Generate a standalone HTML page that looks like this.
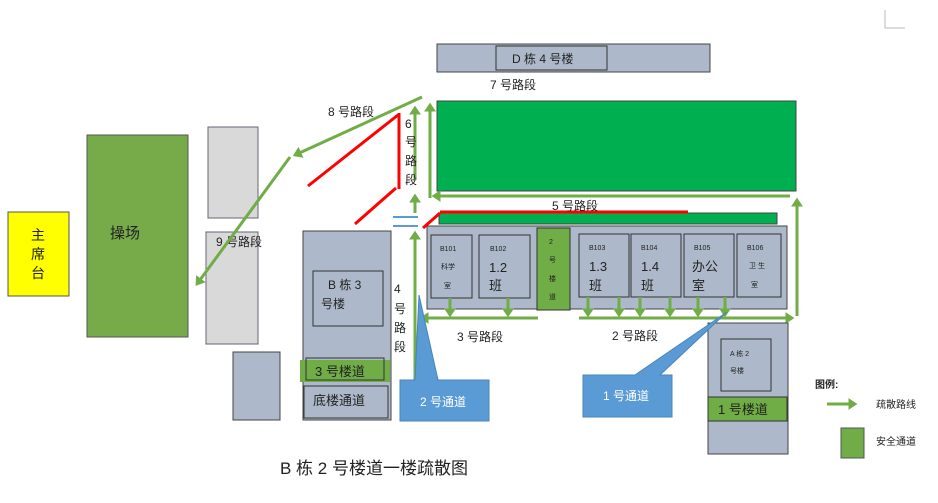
<!DOCTYPE html><html><head><meta charset="utf-8"><style>body{margin:0;background:#fff}svg{display:block}text{font-family:"Liberation Sans","Noto Sans CJK SC",sans-serif;fill:#222}</style></head><body>
<svg width="938" height="503" viewBox="0 0 938 503" xmlns="http://www.w3.org/2000/svg">
<defs><marker id="a" markerWidth="4" markerHeight="4" refX="2.2" refY="2" orient="auto" markerUnits="strokeWidth"><path d="M0,0L3,2L0,4z" fill="#70ad47"/></marker></defs>
<path d="M885,10V28H905" stroke="#bbb" fill="none"/>
<rect x="8" y="212" width="61" height="84" fill="#ffff00" stroke="#555"/>
<text x="38" y="240" font-size="14" text-anchor="middle">主</text><text x="38" y="259" font-size="14" text-anchor="middle">席</text><text x="38" y="278" font-size="14" text-anchor="middle">台</text>
<rect x="87" y="135" width="101" height="202" fill="#77ab4a" stroke="#555"/>
<text x="110" y="238" font-size="15">操场</text>
<rect x="208" y="127" width="50" height="91" fill="#d9d9d9" stroke="#667"/>
<rect x="206" y="232" width="52" height="112" fill="#d9d9d9" stroke="#667"/>
<text x="216" y="246" font-size="12">9 号路段</text>
<rect x="233" y="352" width="47" height="68" fill="#adb9ca" stroke="#444"/>
<rect x="303" y="231" width="88" height="189" fill="#adb9ca" stroke="#444"/>
<rect x="313" y="271" width="70" height="55" fill="#adb9ca" stroke="#333"/>
<text x="328" y="289" font-size="12">B 栋 3</text><text x="321" y="308" font-size="12">号楼</text>
<rect x="300" y="360" width="90" height="22" fill="#70ad47"/><rect x="306" y="358" width="78" height="22" fill="none" stroke="#333"/>
<text x="315" y="376" font-size="13">3 号楼道</text>
<rect x="304" y="386" width="84" height="32" fill="#adb9ca" stroke="#333"/>
<text x="313" y="405" font-size="13">底楼通道</text>
<rect x="437" y="44" width="273" height="28" fill="#adb9ca" stroke="#444"/>
<rect x="496" y="46" width="111" height="24" fill="#adb9ca" stroke="#333"/>
<text x="512" y="63" font-size="12">D 栋 4 号楼</text>
<text x="490" y="89" font-size="12">7 号路段</text>
<rect x="437" y="101" width="359" height="90" fill="#00b050" stroke="#444"/>
<rect x="439" y="213" width="338" height="11" fill="#00b050" stroke="#444"/>
<rect x="427" y="226" width="360" height="83" fill="#adb9ca" stroke="#444"/>
<g fill="#adb9ca" stroke="#333"><rect x="431" y="235" width="41" height="63"/><rect x="479" y="235" width="51" height="63"/><rect x="579" y="234" width="50" height="63"/><rect x="631" y="234" width="50" height="63"/><rect x="684" y="234" width="50" height="63"/><rect x="737" y="234" width="44" height="63"/></g>
<rect x="537" y="228" width="33" height="82" fill="#70ad47" stroke="#333"/>
<g font-size="7"><text x="440" y="251">B101</text><text x="490" y="251">B102</text><text x="589" y="250">B103</text><text x="641" y="250">B104</text><text x="694" y="250">B105</text><text x="747" y="250">B106</text><text x="441" y="269">科学</text><text x="444" y="288">室</text><text x="749" y="268">卫 生</text><text x="751" y="287">室</text><text x="549" y="244">2</text><text x="549" y="262">号</text><text x="549" y="281">楼</text><text x="549" y="299">道</text></g>
<g font-size="13"><text x="489" y="272">1.2</text><text x="489" y="290">班</text><text x="589" y="271">1.3</text><text x="589" y="290">班</text><text x="641" y="271">1.4</text><text x="641" y="290">班</text><text x="692" y="271">办公</text><text x="692" y="290">室</text></g>
<g stroke="#ff0000" stroke-width="3"><line x1="399" y1="113" x2="399" y2="189"/><line x1="398" y1="115" x2="308" y2="186"/><line x1="396" y1="188" x2="355" y2="224"/><line x1="423" y1="228" x2="440" y2="213"/><line x1="440" y1="212" x2="688" y2="212"/></g>
<g stroke="#5b9bd5" stroke-width="2"><line x1="393" y1="217" x2="418" y2="217"/><line x1="393" y1="226" x2="418" y2="226"/></g>
<g stroke="#70ad47" stroke-width="3" fill="none" marker-end="url(#a)">
<line x1="430" y1="198" x2="430" y2="105"/><line x1="790" y1="196" x2="434" y2="196"/><line x1="797" y1="316" x2="797" y2="200"/>
<line x1="415" y1="180" x2="415" y2="108"/><line x1="415" y1="213" x2="415" y2="196"/><line x1="415" y1="380" x2="415" y2="233"/>
<line x1="422" y1="97" x2="295" y2="155"/><line x1="290" y1="157" x2="197" y2="284"/>
<line x1="538" y1="318" x2="422" y2="318"/><line x1="579" y1="318" x2="792" y2="318"/>
<line x1="450" y1="298" x2="450" y2="315"/><line x1="508" y1="298" x2="508" y2="315"/><line x1="588" y1="297" x2="588" y2="315"/><line x1="619" y1="297" x2="619" y2="315"/><line x1="640" y1="297" x2="640" y2="315"/><line x1="670" y1="297" x2="670" y2="315"/><line x1="698" y1="297" x2="698" y2="315"/><line x1="725" y1="297" x2="725" y2="315"/>
<line x1="827" y1="404" x2="855" y2="404"/></g>
<text x="328" y="116" font-size="12">8 号路段</text>
<g font-size="12"><text x="405" y="128">6</text><text x="405" y="146">号</text><text x="405" y="165">路</text><text x="405" y="184">段</text>
<text x="394" y="293">4</text><text x="394" y="313">号</text><text x="394" y="332">路</text><text x="394" y="351">段</text></g>
<text x="552" y="210" font-size="12">5 号路段</text>
<text x="457" y="341" font-size="12">3 号路段</text>
<text x="612" y="340" font-size="12">2 号路段</text>
<path d="M419,295L438,380H489V421H400V380H415Z" fill="#5b9bd5" stroke="#4a84b8"/>
<text x="420" y="406" font-size="12" style="fill:#fff">2 号通道</text>
<rect x="708" y="323" width="80" height="131" fill="#adb9ca" stroke="#444"/>
<rect x="721" y="339" width="50" height="52" fill="#adb9ca" stroke="#333"/>
<text x="730" y="356" font-size="7">A 栋 2</text><text x="730" y="373" font-size="7">号楼</text>
<rect x="708" y="397" width="79" height="24" fill="#70ad47" stroke="#333"/>
<text x="718" y="414" font-size="13">1 号楼道</text>
<path d="M727,312L660,375H672V417H583V375H635Z" fill="#5b9bd5" stroke="#4a84b8"/>
<text x="603" y="400" font-size="12" style="fill:#fff">1 号通道</text>
<text x="815" y="388" font-size="10" font-weight="bold">图例:</text>
<text x="876" y="408" font-size="10">疏散路线</text>
<rect x="841" y="428" width="23" height="30" fill="#70ad47" stroke="#555"/>
<text x="876" y="445" font-size="10">安全通道</text>
<text x="280" y="474" font-size="17">B 栋 2 号楼道一楼疏散图</text>
</svg></body></html>
